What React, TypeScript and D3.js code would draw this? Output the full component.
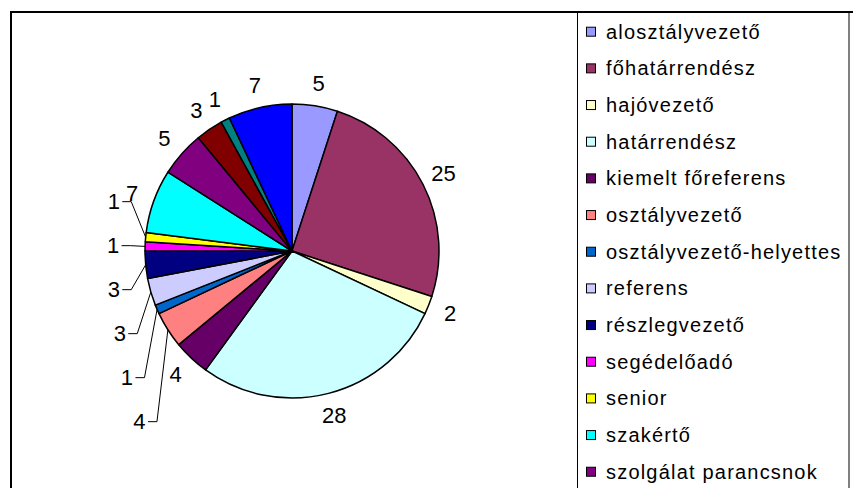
import React, { useEffect, useRef } from "react";
import * as d3 from "d3";

// slices in drawing order (clockwise from 12 o'clock)
const categories = [
  "alosztályvezető",
  "főhatárrendész",
  "hajóvezető",
  "határrendész",
  "kiemelt főreferens",
  "osztályvezető",
  "osztályvezető-helyettes",
  "referens",
  "részlegvezető",
  "segédelőadó",
  "senior",
  "szakértő",
  "szolgálat parancsnok",
  "szolgálatvezető",
  "titkárságvezető",
  "ügyintéző",
];
const values = [5, 25, 2, 28, 4, 4, 1, 3, 3, 1, 1, 7, 5, 3, 1, 7];
const colors = [
  "#9999FF", "#993366", "#FFFFCC", "#CCFFFF", "#660066", "#FF8080",
  "#0066CC", "#CCCCFF", "#000080", "#FF00FF", "#FFFF00", "#00FFFF",
  "#800080", "#800000", "#008080", "#0000FF",
];

const W = 853;
const H = 488;
const FONT = "'Liberation Sans', Arial, sans-serif";

const App = () => {
  const svgRef = useRef<SVGSVGElement>(null);

  useEffect(() => {
    const svg = d3.select(svgRef.current);
    svg.selectAll("*").remove();

    // chart area frame and legend box
    svg.append("rect")
      .attr("x", 11).attr("y", 12)
      .attr("width", W + 20).attr("height", H + 20)
      .attr("fill", "#fff").attr("stroke", "#000").attr("stroke-width", 2);

    svg.append("line")
      .attr("x1", 577.5).attr("x2", 577.5).attr("y1", 12).attr("y2", H)
      .attr("stroke", "#000").attr("stroke-width", 1);
    svg.append("line")
      .attr("x1", 849).attr("x2", 849).attr("y1", 13).attr("y2", H)
      .attr("stroke", "#808080").attr("stroke-width", 2);

    // pie
    const cx = 292, cy = 251, R = 147, labelR = 170;
    const data = values.map((v, i) => ({ name: categories[i], value: v, color: colors[i] }));
    const pie = d3.pie<any>().value((d) => d.value).sort(null);
    const arcs = pie(data);
    const arc = d3.arc<any>().innerRadius(0).outerRadius(R);

    const g = svg.append("g").attr("transform", `translate(${cx},${cy})`);
    g.selectAll("path")
      .data(arcs)
      .join("path")
      .attr("d", arc)
      .attr("fill", (d) => d.data.color)
      .attr("stroke", "#000")
      .attr("stroke-width", 1.5)
      .attr("stroke-linejoin", "round");

    // label positions
    const labels = arcs.map((d, i) => {
      const a = (d.startAngle + d.endAngle) / 2;
      return {
        i, a, text: String(d.data.value),
        x: Math.sin(a) * labelR, y: -Math.cos(a) * labelR,
        ex: Math.sin(a) * R, ey: -Math.cos(a) * R,
        leader: false,
      };
    });

    // crowded labels on the left side: chain of neighbours whose boxes overlap
    const left = labels.filter((l) => Math.sin(l.a) < 0);
    const groups: any[][] = [];
    let cur: any[] = [];
    for (let k = 0; k < left.length; k++) {
      const l = left[k];
      const prev = left[k - 1];
      if (prev && Math.abs(prev.y - l.y) < 32 && Math.abs(prev.x - l.x) < 16) {
        if (cur.length === 0) cur.push(prev);
        cur.push(l);
      } else {
        if (cur.length > 1) groups.push(cur);
        cur = [];
      }
    }
    if (cur.length > 1) groups.push(cur);

    groups.forEach((grp) => {
      const sorted = grp.slice().sort((p, q) => p.y - q.y);
      let anchor = 0;
      sorted.forEach((l, k) => {
        if (Math.abs(l.a - 1.5 * Math.PI) < Math.abs(sorted[anchor].a - 1.5 * Math.PI)) anchor = k;
      });
      const y0 = sorted[anchor].y;
      sorted.forEach((l, k) => {
        l.y = y0 + (k - anchor) * 44;
        l.x = l.x - 9;
        l.leader = true;
      });
    });

    const lg = svg.append("g").attr("transform", `translate(${cx},${cy})`);
    labels.forEach((l) => {
      lg.append("text")
        .attr("x", l.x).attr("y", l.y)
        .attr("text-anchor", "middle")
        .attr("dominant-baseline", "central")
        .attr("font-family", FONT)
        .attr("font-size", 22)
        .attr("fill", "#000")
        .text(l.text);
      if (l.leader) {
        const xr = l.x + 6 + 2.5;
        lg.append("polyline")
          .attr("points", `${xr},${l.y} ${xr + 9},${l.y} ${l.ex},${l.ey}`)
          .attr("fill", "none")
          .attr("stroke", "#000")
          .attr("stroke-width", 1);
      }
    });

    // legend (entries that fall below the visible frame are clipped away)
    const rowY = (i: number) => 31.7 + i * 36.67;
    const shown = data.filter((d, i) => rowY(i) + 12 < H);
    const legend = svg.append("g");
    const item = legend.selectAll("g")
      .data(shown)
      .join("g")
      .attr("transform", (d, i) => `translate(586,${rowY(i)})`);
    item.append("rect")
      .attr("x", 0.5).attr("y", -4.5)
      .attr("width", 9).attr("height", 9)
      .attr("fill", (d) => d.color)
      .attr("stroke", "#000").attr("stroke-width", 1);
    item.append("text")
      .attr("x", 20).attr("y", 0)
      .attr("dominant-baseline", "central")
      .attr("font-family", FONT)
      .attr("font-size", 20)
      .attr("letter-spacing", 1.2)
      .attr("fill", "#000")
      .text((d) => d.name);
  }, []);

  return (
    <div style={{ position: "absolute", left: 0, top: 0, width: W, height: H, overflow: "hidden" }}>
      <svg ref={svgRef} width={W} height={H} style={{ display: "block" }} />
    </div>
  );
};

export default App;
